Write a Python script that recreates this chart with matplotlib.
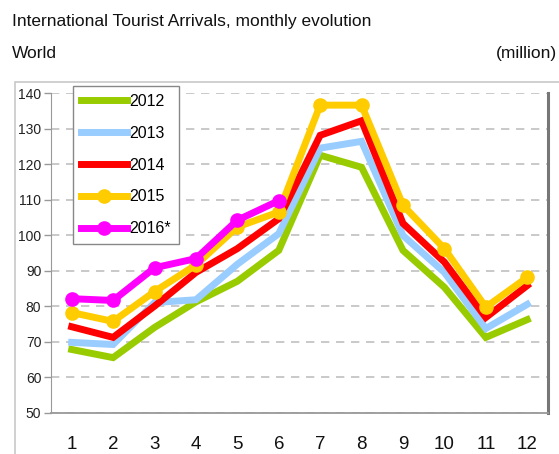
import matplotlib
matplotlib.use("Agg")
import matplotlib.pyplot as plt
from matplotlib.patches import Rectangle

plt.rcParams['font.family'] = ['Liberation Sans Narrow', 'Liberation Sans', 'DejaVu Sans']

# data (million arrivals)
months = [1, 2, 3, 4, 5, 6, 7, 8, 9, 10, 11, 12]
y2012 = [67.8, 65.5, 74.0, 81.2, 87.0, 95.7, 122.5, 119.1, 95.7, 85.3, 71.2, 76.2]
y2013 = [69.8, 69.2, 81.0, 81.8, 91.8, 100.4, 124.5, 126.4, 99.9, 89.5, 73.7, 80.5]
y2014 = [74.2, 71.2, 80.0, 89.5, 96.2, 104.6, 128.1, 132.2, 103.3, 92.4, 76.8, 85.8]
y2015 = [78.2, 75.7, 84.1, 91.6, 102.3, 106.5, 136.6, 136.6, 108.4, 96.2, 79.7, 88.1]
y2016 = [82.1, 81.6, 90.8, 93.4, 104.2, 109.7]

fig = plt.figure(figsize=(5.59, 4.54), dpi=100)

# light frame around the chart
fig.patches.append(Rectangle((0.027, -0.02), 0.99, 0.839, transform=fig.transFigure,
                             fill=False, edgecolor='#c8c8c8', linewidth=1.2))

fig.text(0.021, 0.952, 'International Tourist Arrivals, monthly evolution',
         fontsize=12.5, va='center', ha='left', color='#111111')
fig.text(0.021, 0.882, 'World', fontsize=12.5, va='center', ha='left', color='#111111')
fig.text(0.997, 0.882, '(million)', fontsize=12.5, va='center', ha='right', color='#111111')

ax = fig.add_axes([0.0912, 0.091, 0.889, 0.704])

lw = 5
ax.plot(months, y2012, color='#99CC00', lw=lw, label='2012', solid_joinstyle='miter')
ax.plot(months, y2013, color='#99CCFF', lw=lw, label='2013', solid_joinstyle='miter')
ax.plot(months, y2014, color='#FF0000', lw=lw, label='2014', solid_joinstyle='miter')
ax.plot(months, y2015, color='#FFCC00', lw=lw, label='2015', marker='o', ms=9.5,
        solid_joinstyle='miter')
ax.plot(months[:len(y2016)], y2016, color='#FF00FF', lw=lw, label='2016*', marker='o',
        ms=9.5, solid_joinstyle='miter')

ax.set_xlim(0.5, 12.5)
ax.set_ylim(50, 140)
ax.set_xticks(months)
ax.set_yticks(range(50, 141, 10))
ax.yaxis.grid(True, linestyle=(0, (5, 4)), color='#c0c0c0', lw=1.2)
ax.set_axisbelow(True)

ax.tick_params(axis='x', length=0, pad=17, labelsize=13.5, labelcolor='#111111')
ax.tick_params(axis='y', length=5, width=1, color='#999999', pad=2,
               labelsize=10, labelcolor='#222222')

ax.spines['top'].set_visible(False)
ax.spines['left'].set_color('#999999')
ax.spines['bottom'].set_color('#999999')
ax.spines['bottom'].set_linewidth(1.3)
ax.spines['right'].set_color('#777777')
ax.spines['right'].set_linewidth(2.2)

leg = ax.legend(loc='upper left', bbox_to_anchor=(0.044, 1.022), borderaxespad=0,
                fontsize=11.5, handlelength=2.9, handletextpad=0.15, labelspacing=1.05,
                numpoints=1, fancybox=False, framealpha=1, borderpad=0.5)
leg.get_frame().set_edgecolor('#888888')
leg.get_frame().set_linewidth(1.0)

fig.savefig('out.png', dpi=100)
